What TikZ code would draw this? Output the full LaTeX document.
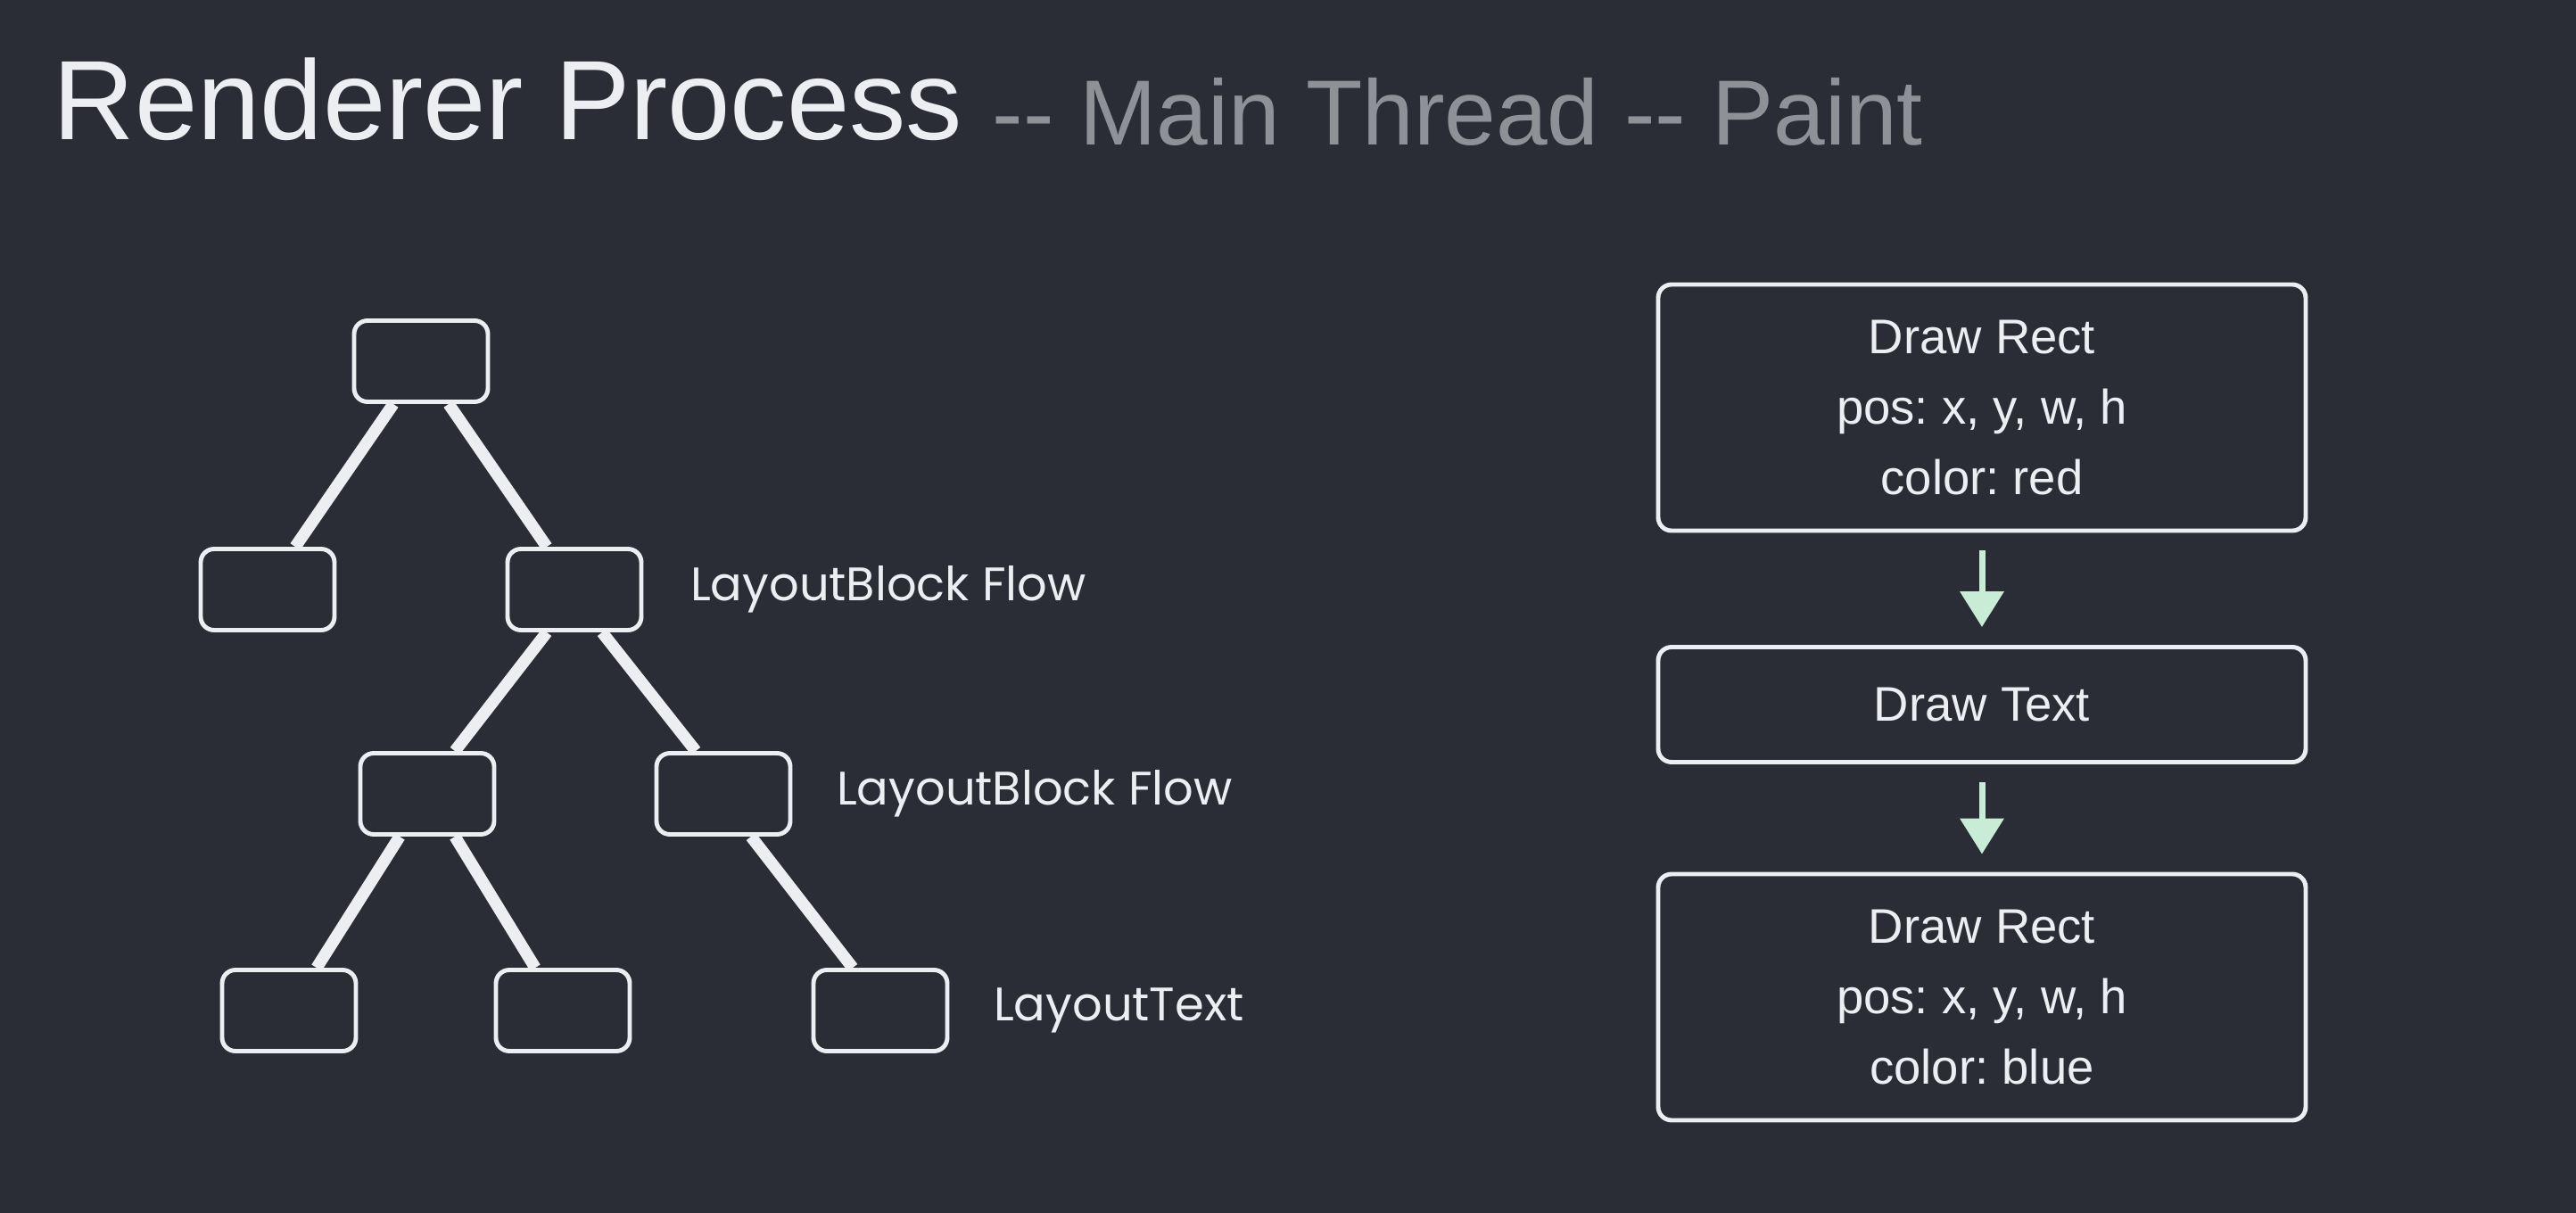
\documentclass[tikz,border=0pt]{standalone}
\usepackage{fontspec}
\setmainfont{Liberation Sans}
\newfontfamily\labelfont{Poppins}
\usetikzlibrary{arrows.meta,positioning}
\frenchspacing
\definecolor{slidebg}{HTML}{2A2D35}
\definecolor{titlewhite}{HTML}{ECEEF2}
\definecolor{titlegray}{HTML}{8E9297}
\definecolor{mint}{HTML}{C9ECD6}
\tikzset{
  treebox/.style={
    draw=titlewhite,
    line width=1.4pt,
    rounded corners=1.5mm,
    minimum width=1.5cm,
    minimum height=0.91cm,
    inner sep=0pt
  },
  treeedge/.style={draw=titlewhite,line width=3.8pt},
  treelabel/.style={
    text=titlewhite,
    anchor=west,
    inner sep=0pt,
    font=\labelfont\fontsize{15}{18}\selectfont
  },
  paintop/.style={
    draw=titlewhite,
    line width=1.4pt,
    rounded corners=1.5mm,
    minimum width=7.26cm,
    align=center,
    text=titlewhite,
    font=\fontsize{15.5}{22.5}\selectfont
  },
  paintflow/.style={
    draw=mint,
    line width=2pt,
    -{Triangle[width=4.8mm,length=4mm]},
    shorten <=2mm,
    shorten >=2mm
  }
}

\begin{document}
\begin{tikzpicture}
\fill[slidebg] (0,0) rectangle (28.88,-13.60);
\useasboundingbox (0,0) rectangle (28.88,-13.60);

% title
\node[anchor=base west, inner sep=0pt, text=titlewhite, font=\fontsize{36}{40}\selectfont]
  (title) at (0.59,-1.57) {Renderer Process};
\node[anchor=base west, inner sep=0pt, text=titlegray, font=\fontsize{29.5}{33}\selectfont]
  (subtitle) at ([xshift=3.2mm,yshift=-0.6mm]title.base east) {-{}- Main Thread -{}- Paint};

% layout tree
\node[treebox] (root) at (4.72,-4.05) {};
\node[treebox] (l1) at (3.00,-6.61) {};
\node[treebox] (r1) at (6.44,-6.61) {};
\node[treebox] (ll) at (4.79,-8.90) {};
\node[treebox] (lr) at (8.11,-8.90) {};
\node[treebox] (b1) at (3.24,-11.33) {};
\node[treebox] (b2) at (6.31,-11.33) {};
\node[treebox] (b3) at (9.87,-11.33) {};

\draw[treeedge] ([xshift=-3.1mm]root.south) -- ([xshift=3.1mm]l1.north);
\draw[treeedge] ([xshift=3.1mm]root.south) -- ([xshift=-3.1mm]r1.north);
\draw[treeedge] ([xshift=-3.1mm]r1.south) -- ([xshift=3.1mm]ll.north);
\draw[treeedge] ([xshift=3.1mm]r1.south) -- ([xshift=-3.1mm]lr.north);
\draw[treeedge] ([xshift=-3.1mm]ll.south) -- ([xshift=3.1mm]b1.north);
\draw[treeedge] ([xshift=3.1mm]ll.south) -- ([xshift=-3.1mm]b2.north);
\draw[treeedge] ([xshift=3.1mm]lr.south) -- ([xshift=-3.1mm]b3.north);

\node[treelabel, right=5.2mm of r1] (lbl1) {LayoutBlock Flow};
\node[treelabel, right=4.9mm of lr] (lbl2) {LayoutBlock Flow};
\node[treelabel, right=4.9mm of b3] (lbl3) {LayoutText};

% paint records
\node[paintop, minimum height=2.76cm] (rect1) at (22.22,-4.57)
  {Draw Rect\\pos: x, y, w, h\\color: red};
\node[paintop, minimum height=1.29cm] (text1) at (22.22,-7.90) {Draw Text};
\node[paintop, minimum height=2.76cm] (rect2) at (22.22,-11.18)
  {Draw Rect\\pos: x, y, w, h\\color: blue};

\draw[paintflow] (rect1) -- (text1);
\draw[paintflow] (text1) -- (rect2);
\end{tikzpicture}
\end{document}
